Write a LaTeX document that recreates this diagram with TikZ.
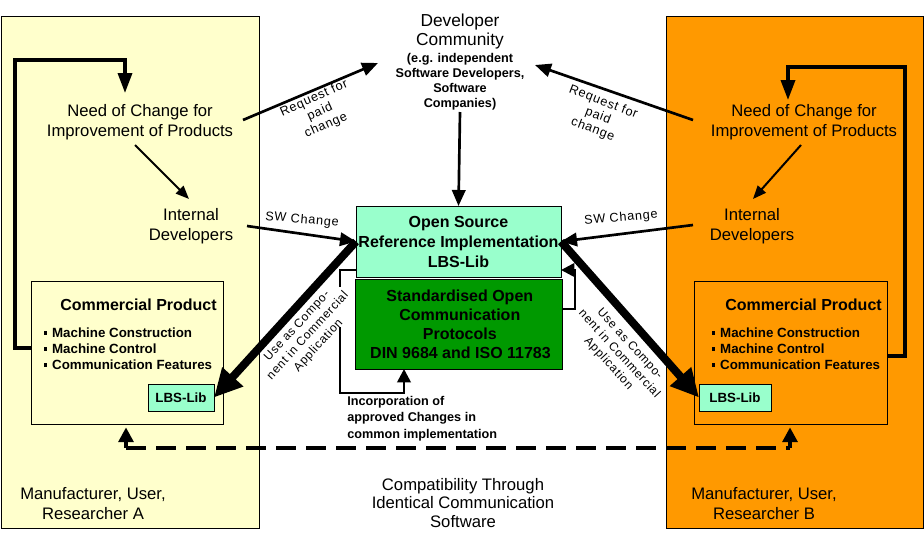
\documentclass[tikz,border=0pt]{standalone}
\usepackage{fontspec}
\setmainfont{Liberation Sans}
\newfontfamily\spacedfont[LetterSpace=6]{Liberation Sans}
\usetikzlibrary{arrows.meta}
\definecolor{paleyellow}{HTML}{FFFFCC}
\definecolor{orangebg}{HTML}{FF9900}
\definecolor{aqua}{HTML}{99FFCC}
\definecolor{protgreen}{HTML}{009900}
\newcommand{\fsz}[2]{\fontsize{#1}{#2}\selectfont}
\newcommand{\bul}{\rule[2.4pt]{2.4pt}{2.4pt}\hspace{3.5pt}}
\begin{document}
\begin{tikzpicture}[x=0.75pt,y=-0.75pt,
  box/.style={draw=black,line width=0.75pt,inner sep=0pt,outer sep=0pt,align=center},
  bigtxt/.style={align=center,font=\fsz{12.5}{15}},
  lbltxt/.style={align=center,font=\spacedfont\fsz{9.5}{11},inner sep=1pt},
  uselbl/.style={align=center,font=\spacedfont\fsz{9}{10.8},inner sep=1pt},
  thinarr/.style={line width=1.5pt,-{Triangle[length=10pt,width=8pt]}},
  medarr/.style={line width=2pt,-{Triangle[length=12pt,width=10pt]}},
  looparr/.style={line width=2.6pt,-{Triangle[length=15pt,width=10.5pt]}},
  fatarr/.style={line width=6pt,-{Triangle[length=21pt,width=20pt]}},
  brkline/.style={line width=2pt},
  brkarr/.style={line width=2pt,-{Triangle[length=10pt,width=10pt]}},
  dashline/.style={line width=3.4pt,dash pattern=on 15pt off 7.5pt},
  dashtip/.style={line width=3pt,-{Triangle[length=11pt,width=11pt]}}]
\useasboundingbox (0,0) rectangle (924,536);
\fill[white] (0,0) rectangle (924,536);
% panels
\node[box,fill=paleyellow,minimum width=193.5pt,minimum height=384pt] (panA) at (130,272) {};
\node[box,fill=orangebg,minimum width=192.75pt,minimum height=384pt] (panB) at (794.5,272) {};
% commercial products
\node[box,minimum width=144pt,minimum height=107.25pt] (commA) at (127,352.5) {};
\node[box,minimum width=144.75pt,minimum height=107.25pt] (commB) at (790.5,352.5) {};
\node[font=\bfseries\fsz{12}{14}] (titA) at (138.5,305) {Commercial Product};
\node[font=\bfseries\fsz{12}{14}] (titB) at (803.5,305) {Commercial Product};
\node[anchor=west,align=left,inner sep=0pt,font=\bfseries\fsz{10}{12}] (bulA) at (44,349) {\bul Machine Construction\\\bul Machine Control\\\bul Communication Features};
\node[anchor=west,align=left,inner sep=0pt,font=\bfseries\fsz{10}{12}] (bulB) at (712,349) {\bul Machine Construction\\\bul Machine Control\\\bul Communication Features};
\node[box,fill=aqua,minimum width=49.5pt,minimum height=20.25pt,font=\bfseries\fsz{10}{12}] (lbsA) at (181,397.5) {LBS-Lib};
\node[box,fill=aqua,minimum width=54pt,minimum height=20.25pt,font=\bfseries\fsz{10}{12}] (lbsB) at (735,397.5) {LBS-Lib};
% text nodes
\node[bigtxt] (needA) at (140,122) {Need of Change for\\Improvement of Products};
\node[bigtxt] (needB) at (804,122) {Need of Change for\\Improvement of Products};
\node[bigtxt] (intA) at (191,226) {Internal\\Developers};
\node[bigtxt] (intB) at (752,226) {Internal\\Developers};
\node[align=center,font=\fsz{13}{14.25}] (devT) at (460,31.5) {Developer\\Community};
\node[align=center,font=\bfseries\fsz{9.5}{11.25}] (devS) at (460,82) {(e.g. independent\\Software Developers,\\Software\\Companies)};
\node[bigtxt] (manA) at (93,504) {Manufacturer, User,\\Researcher A};
\node[bigtxt] (manB) at (764,504) {Manufacturer, User,\\Researcher B};
\node[align=center,font=\fsz{12.5}{13.9}] (compat) at (463,503) {Compatibility Through\\Identical Communication\\Software};
\node[anchor=west,align=left,inner sep=0pt,font=\bfseries\fsz{9.5}{12.4}] (inc) at (347,418.5) {Incorporation of\\approved Changes in\\common implementation};
% central boxes
\node[box,fill=aqua,minimum width=153.75pt,minimum height=53.25pt,font=\bfseries\fsz{12}{15}] (osrc) at (458.5,241.5) {Open Source\\Reference Implementation\\LBS-Lib};
\node[box,fill=protgreen,minimum width=155.25pt,minimum height=67.5pt,font=\bfseries\fsz{12}{14.25}] (green) at (458.5,324) {\hspace*{2pt}Standardised Open\\\hspace*{2pt}Communication\\\hspace*{2pt}Protocols\\\hspace*{3pt}DIN 9684 and ISO 11783};
% labels
\node[lbltxt,rotate=24] (reqA) at (320,112) {Request for\\paid\\change};
\node[lbltxt,rotate=-21] (reqB) at (598,116) {Request for\\paid\\change};
\node[lbltxt,rotate=-5] (swA) at (302,220) {SW Change};
\node[lbltxt,rotate=5] (swB) at (621,218) {SW Change};
\node[uselbl,rotate=47.5] (useA) at (308,336) {Use as Compo-\\nent in Commercial\\Application};
\node[uselbl,rotate=-47.5] (useB) at (619,354) {Use as Compo-\\nent in Commercial\\Application};
% free-end coordinates
\coordinate (nAin) at (125,93);
\coordinate (nAdev) at (243,120);
\coordinate (nAint) at (135,145);
\coordinate (iAin) at (189,199);
\coordinate (iAout) at (247,226);
\coordinate (nBin) at (788,100);
\coordinate (nBdev) at (693,120);
\coordinate (nBint) at (801,145);
\coordinate (iBin) at (753,199);
\coordinate (iBout) at (693,225);
\coordinate (devOut) at (460,112);
\coordinate (devInA) at (378,63);
\coordinate (devInB) at (535,65);
\coordinate (dA) at (126,448);
\coordinate (dB) at (790,448);
% loops
\draw[looparr] (commA.west |- 0,348) -- (15,348) -- (15,60) -- (125,60) -- (nAin);
\draw[looparr] (commB.east |- 0,356) -- (905,356) -- (905,67) -- (788,67) -- (nBin);
% thin arrows
\draw[thinarr] (nAint) -- (iAin);
\draw[thinarr] (nBint) -- (iBin);
\draw[medarr] (nAdev) -- (devInA);
\draw[medarr] (nBdev) -- (devInB);
\draw[medarr] (devOut) -- (osrc.north);
\draw[medarr] (iAout) -- (osrc.west);
\draw[medarr] (iBout) -- (osrc.east);
% brackets
\draw[brkline] (osrc.west |- 0,270) -- (340,270) -- (340,287);
\draw[brkarr] (340,327) -- (340,393) -- (404,393) -- (green.south -| 404,0);
\draw[brkarr] (green.east |- 0,309) -- (575,309) -- (575,270) -- (osrc.east |- 0,270);
% fat arrows
\draw[fatarr] (osrc.west) -- (lbsA.east);
\draw[fatarr] (osrc.east) -- (lbsB.west);
% dashed compatibility
\draw[dashline] (dA) -- (dB);
\draw[dashtip] (dA) -- ([yshift=-2.5pt]commA.south -| dA);
\draw[dashtip] (dB) -- ([yshift=-2.5pt]commB.south -| dB);
\end{tikzpicture}
\end{document}
